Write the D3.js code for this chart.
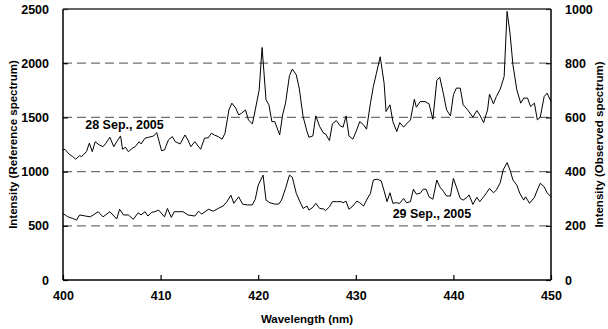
<!DOCTYPE html>
<html>
<head>
<meta charset="utf-8">
<script src="https://cdn.jsdelivr.net/npm/d3@7"></script>
<style>
  body { margin: 0; background: #fff; }
  text { font-family: "Liberation Sans", Arial, sans-serif; font-weight: bold; fill: #000; }
</style>
</head>
<body>
<div id="chart"></div>
<script>
// reference spectrum (left axis), 28 Sep. 2005
const refWavelength = [400.0, 400.2, 400.6, 401.0, 401.3, 401.7, 401.9, 402.4, 402.7, 403.0, 403.3, 403.7, 404.1, 404.4, 404.8, 405.2,
  405.5, 405.9, 406.1, 406.4, 406.7, 407.1, 407.4, 407.8, 408.0, 408.4, 408.8, 409.3, 409.6, 410.1, 410.4, 410.8, 411.2, 411.5,
  412.0, 412.5, 412.8, 413.1, 413.5, 414.1, 414.5, 414.9, 415.2, 415.5, 415.9, 416.3, 416.6, 417.0, 417.3, 417.7, 418.0, 418.3,
  418.7, 419.0, 419.4, 419.7, 420.1, 420.4, 420.8, 421.1, 421.4, 421.7, 422.2, 422.5, 422.8, 423.2, 423.5, 423.9, 424.2, 424.6,
  425.0, 425.2, 425.6, 425.9, 426.3, 426.7, 426.9, 427.3, 427.6, 428.0, 428.4, 428.7, 429.0, 429.3, 429.7, 430.1, 430.4, 430.8,
  431.1, 431.5, 431.8, 432.1, 432.5, 432.9, 433.1, 433.5, 433.8, 434.2, 434.5, 434.9, 435.2, 435.6, 436.0, 436.2, 436.6, 437.1,
  437.5, 437.9, 438.3, 438.6, 439.0, 439.3, 439.7, 440.0, 440.3, 440.7, 441.0, 441.4, 441.7, 442.0, 442.4, 442.7, 443.1, 443.5,
  443.7, 444.1, 444.4, 444.8, 445.2, 445.5, 445.8, 446.1, 446.5, 446.9, 447.2, 447.6, 447.9, 448.3, 448.6, 448.9, 449.3, 449.6, 450.0];
const refIntensity = [1200, 1206, 1163, 1138, 1114, 1147, 1138, 1184, 1262, 1184, 1276, 1246, 1230, 1262, 1317, 1230,
  1276, 1329, 1206, 1225, 1184, 1215, 1230, 1276, 1255, 1308, 1317, 1329, 1360, 1193, 1200, 1292, 1323, 1276,
  1255, 1338, 1292, 1230, 1276, 1206, 1308, 1313, 1354, 1338, 1323, 1299, 1354, 1569, 1631, 1585, 1523, 1539,
  1569, 1477, 1440, 1569, 1754, 2145, 1662, 1616, 1461, 1461, 1338, 1523, 1631, 1884, 1946, 1893, 1770, 1508,
  1369, 1317, 1329, 1514, 1415, 1354, 1348, 1286, 1440, 1471, 1422, 1410, 1514, 1329, 1299, 1385, 1461, 1431,
  1391, 1631, 1785, 1902, 2059, 1816, 1554, 1616, 1461, 1369, 1452, 1410, 1440, 1477, 1668, 1594, 1646, 1646,
  1625, 1483, 1840, 1872, 1708, 1569, 1514, 1708, 1770, 1770, 1616, 1576, 1539, 1502, 1563, 1523, 1452, 1569,
  1715, 1625, 1692, 1761, 1877, 2478, 2278, 1985, 1754, 1631, 1678, 1678, 1600, 1631, 1477, 1502, 1692, 1724, 1646];

// observed spectrum (right axis), 29 Sep. 2005
const obsWavelength = [400.0, 400.1, 400.5, 401.0, 401.4, 401.7, 402.3, 402.8, 403.1, 403.6, 404.1, 404.8, 405.5, 405.8, 406.2,
  406.7, 407.2, 407.7, 408.0, 408.4, 408.7, 409.1, 409.4, 409.8, 410.4, 410.7, 411.1, 411.4, 411.8, 412.3, 412.8, 413.5,
  413.9, 414.2, 414.9, 415.4, 415.9, 416.4, 416.8, 417.2, 417.5, 418.0, 418.4, 418.9, 419.4, 419.7, 420.0, 420.5, 420.8,
  421.2, 421.7, 422.1, 422.4, 422.8, 423.2, 423.5, 423.9, 424.2, 424.6, 425.0, 425.2, 425.6, 425.9, 426.3, 426.7, 426.9,
  427.3, 427.6, 428.0, 428.5, 428.7, 429.0, 429.3, 429.7, 430.1, 430.4, 430.8, 431.1, 431.5, 431.8, 432.2, 432.6, 432.9,
  433.2, 433.5, 433.8, 434.1, 434.5, 434.9, 435.2, 435.6, 435.9, 436.2, 436.6, 436.9, 437.2, 437.5, 437.9, 438.3, 438.6,
  439.0, 439.3, 439.7, 440.0, 440.3, 440.7, 441.0, 441.4, 441.6, 442.0, 442.4, 442.7, 443.1, 443.4, 443.7, 444.1, 444.4,
  444.8, 445.1, 445.5, 445.8, 446.1, 446.5, 446.8, 447.2, 447.4, 447.8, 448.3, 448.6, 448.9, 449.3, 449.6, 450.0];
const obsIntensity = [245, 243, 233, 227, 221, 240, 236, 233, 240, 252, 233, 252, 225, 261, 240,
  240, 224, 248, 240, 252, 236, 250, 252, 258, 233, 264, 231, 252, 252, 252, 240, 236,
  254, 243, 261, 254, 264, 273, 289, 313, 283, 307, 280, 277, 277, 298, 350, 387, 295,
  285, 280, 280, 295, 338, 387, 379, 320, 295, 264, 273, 258, 268, 283, 264, 262, 256,
  270, 289, 289, 289, 285, 291, 261, 273, 291, 285, 273, 295, 320, 369, 372, 366, 329,
  289, 322, 283, 285, 283, 301, 285, 289, 335, 317, 320, 335, 335, 307, 298, 369, 344,
  326, 310, 310, 375, 344, 301, 295, 305, 314, 279, 305, 289, 307, 322, 338, 322, 332,
  359, 406, 433, 406, 369, 350, 320, 295, 307, 283, 305, 332, 357, 344, 322, 307];

const xTicks = [400, 410, 420, 430, 440, 450];
const leftTicks = [0, 500, 1000, 1500, 2000, 2500];
const rightTicks = [0, 200, 400, 600, 800, 1000];

const width = 608, height = 329;
const margin = { top: 9, right: 57, bottom: 49, left: 63 };

const svg = d3.select('#chart')
  .append('svg')
  .attr('width', width)
  .attr('height', height);

const x = d3.scaleLinear().domain([400, 450]).range([margin.left, width - margin.right]);
const yLeft = d3.scaleLinear().domain([0, 2500]).range([height - margin.bottom, margin.top]);
const yRight = d3.scaleLinear().domain([0, 1000]).range([height - margin.bottom, margin.top]);

// dashed grid lines
svg.append('g')
  .selectAll('line')
  .data(leftTicks.slice(1, -1))
  .join('line')
  .attr('x1', x(400))
  .attr('x2', x(450))
  .attr('y1', d => yLeft(d))
  .attr('y2', d => yLeft(d))
  .attr('stroke', '#707070')
  .attr('stroke-width', 1.3)
  .attr('stroke-dasharray', '9,5');

// series
const line = (xs, ys, yScale) => d3.line()
  .x((d, i) => x(xs[i]))
  .y(d => yScale(d))(ys);

svg.append('path')
  .attr('d', line(refWavelength, refIntensity, yLeft))
  .attr('fill', 'none')
  .attr('stroke', '#000')
  .attr('stroke-width', 1);

svg.append('path')
  .attr('d', line(obsWavelength, obsIntensity, yRight))
  .attr('fill', 'none')
  .attr('stroke', '#000')
  .attr('stroke-width', 1);

// axes
const fmt = d3.format('d');
const xAxis = svg.append('g')
  .attr('transform', `translate(0,${height - margin.bottom})`)
  .call(d3.axisBottom(x).tickValues(xTicks).tickFormat(fmt).tickSize(-5).tickPadding(11));

const leftAxis = svg.append('g')
  .attr('transform', `translate(${margin.left},0)`)
  .call(d3.axisLeft(yLeft).tickValues(leftTicks).tickFormat(fmt).tickSize(-5).tickPadding(14));

const rightAxis = svg.append('g')
  .attr('transform', `translate(${width - margin.right},0)`)
  .call(d3.axisRight(yRight).tickValues(rightTicks).tickFormat(fmt).tickSize(-5).tickPadding(14));

[xAxis, leftAxis, rightAxis].forEach(g => {
  g.select('.domain').attr('stroke', '#000').attr('stroke-width', 1.5);
  g.selectAll('.tick line').attr('stroke', '#000').attr('stroke-width', 1.2);
  g.selectAll('.tick text')
    .attr('font-size', 12.5)
    .attr('font-family', '"Liberation Sans", Arial, sans-serif')
    .attr('font-weight', 'bold');
});
xAxis.select('.domain').attr('d', `M${x(400)},0H${x(450)}`);
leftAxis.select('.domain').attr('d', `M0,${yLeft(0)}V${yLeft(2500)}`);
rightAxis.select('.domain').attr('d', `M0,${yRight(0)}V${yRight(1000)}`);

// top frame line
svg.append('line')
  .attr('x1', x(400)).attr('x2', x(450))
  .attr('y1', yLeft(2500)).attr('y2', yLeft(2500))
  .attr('stroke', '#333')
  .attr('stroke-width', 1.3);

// axis titles
svg.append('text')
  .attr('x', (x(400) + x(450)) / 2)
  .attr('y', 323)
  .attr('text-anchor', 'middle')
  .attr('font-size', 11.5)
  .text('Wavelength (nm)');

svg.append('text')
  .attr('transform', `translate(17,${(yLeft(0) + yLeft(2500)) / 2}) rotate(-90)`)
  .attr('text-anchor', 'middle')
  .attr('font-size', 11.5)
  .text('Intensity (Reference spectrum)');

svg.append('text')
  .attr('transform', `translate(603,${(yLeft(0) + yLeft(2500)) / 2}) rotate(-90)`)
  .attr('text-anchor', 'middle')
  .attr('font-size', 11.5)
  .text('Intensity (Observed spectrum)');

// series labels
svg.append('text')
  .attr('x', x(406.3))
  .attr('y', 129)
  .attr('text-anchor', 'middle')
  .attr('font-size', 12.5)
  .text('28 Sep., 2005');

svg.append('text')
  .attr('x', x(437.8))
  .attr('y', 218)
  .attr('text-anchor', 'middle')
  .attr('font-size', 12.5)
  .text('29 Sep., 2005');
</script>
</body>
</html>
